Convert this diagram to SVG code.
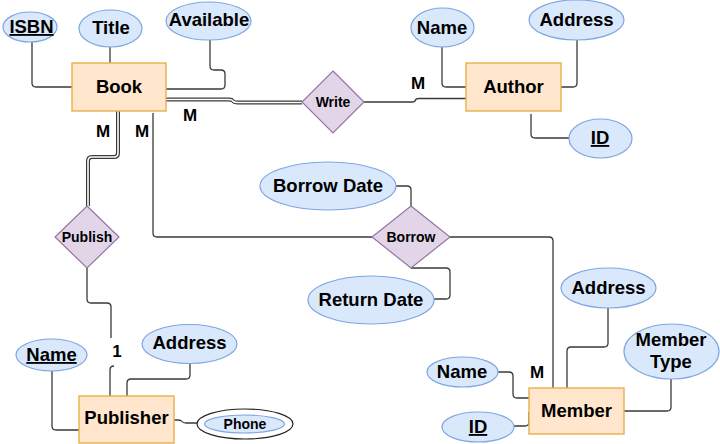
<svg xmlns="http://www.w3.org/2000/svg" width="720" height="444" viewBox="0 0 720 444">
<style>
text{font-family:"Liberation Sans",Arial,sans-serif;font-weight:bold;fill:#000;text-anchor:middle}
.a{font-size:18.5px}
.e{font-size:18.5px}
.r{font-size:14px}
.c{font-size:17px}
.u{text-decoration:underline}
ellipse{fill:#dae8fc;stroke:#7ea6e0;stroke-width:1.2}
rect.ent{fill:#ffe6cc;stroke:#e8b04a;stroke-width:1.4}
polygon{fill:#e1d5e7;stroke:#9673a6;stroke-width:1.2}
.ln{fill:none;stroke:#3a3a3a;stroke-width:1.3}
.dbo{fill:none;stroke:#3a3a3a;stroke-width:4}
.dbi{fill:none;stroke:#fff;stroke-width:1.6}
</style>
<rect width="720" height="444" fill="#fff"/>
<g id="connectors">
<path class="ln" d="M32,42 V83 Q32,87 36,87 H72"/>
<path class="ln" d="M110,47 V63"/>
<path class="ln" d="M210,40 V66 Q210,70 214,70 H221 Q225,70 225,74 V85 Q225,89 221,89 H166"/>
<path class="dbo" d="M166,99.5 H229 Q232,99.5 233,101 Q234,102.5 237,102.5 H302"/>
<path class="dbi" d="M166,99.5 H229 Q232,99.5 233,101 Q234,102.5 237,102.5 H302"/>
<path class="ln" d="M364,102 H412 Q415,102 415.5,100 Q416,98.5 419,98.5 H466"/>
<path class="ln" d="M442,47 V83 Q442,87 446,87 H466"/>
<path class="ln" d="M577,40 V83 Q577,87 573,87 H561"/>
<path class="ln" d="M531,114 V134 Q531,138 535,138 H569"/>
<path class="dbo" d="M118,111 V153 Q118,157 114,157 H92 Q88,157 88,161 V206"/>
<path class="dbi" d="M118,111 V153 Q118,157 114,157 H92 Q88,157 88,161 V206"/>
<path class="ln" d="M87,268 V299 Q87,303 91,303 H107 Q111,303 111,307 V338"/>
<path class="ln" d="M114,366 Q110,366 110,370 V396"/>
<path class="ln" d="M153,113 V233 Q153,237 157,237 H372"/>
<path class="ln" d="M450,237 H549 Q553,237 553,241 V388"/>
<path class="ln" d="M396,186 H407 Q411,186 411,190 V206"/>
<path class="ln" d="M411,268 H446 Q450,268 450,272 V295 Q450,299 446,299 H434"/>
<path class="ln" d="M52,371 V426 Q52,430 56,430 H79"/>
<path class="ln" d="M190,363 V375 Q190,379 186,379 H131 Q127,379 127,383 V396"/>
<path class="ln" d="M174,420 H178 Q181,420 182,421.5 Q183,423 186,423 H197"/>
<path class="ln" d="M608,308 V343 Q608,347 604,347 H571 Q567,347 567,351 V388"/>
<path class="ln" d="M671,379 V407 Q671,411 667,411 H624"/>
<path class="ln" d="M498,372 H509 Q513,372 513,376 V394 Q513,398 517,398 H529"/>
<path class="ln" d="M514,426 H525 Q529,426 529,422 V412"/>
</g>
<g id="Book"><rect class="ent" x="72" y="63" width="94" height="48"/><text class="e" x="119" y="93">Book</text></g>
<g id="Author"><rect class="ent" x="466" y="63" width="95" height="48"/><text class="e" x="513.5" y="93">Author</text></g>
<g id="Publisher"><rect class="ent" x="79" y="396" width="95" height="47"/><text class="e" x="126.5" y="424">Publisher</text></g>
<g id="Member"><rect class="ent" x="529" y="388" width="95" height="46"/><text class="e" x="576.5" y="417">Member</text></g>
<g id="Write"><polygon points="333,71 364,102 333,133 302,102"/><text class="r" x="333" y="107">Write</text></g>
<g id="Publish"><polygon points="87,206 119,237 87,268 55,237"/><text class="r" x="87" y="242">Publish</text></g>
<g id="Borrow"><polygon points="411,206 450,237 411,268 372,237"/><text class="r" x="411" y="242">Borrow</text></g>
<g id="Book_ISBN"><ellipse cx="30" cy="27" rx="27" ry="15"/><text class="a u" x="31.5" y="33">ISBN</text></g>
<g id="Book_Title"><ellipse cx="110.5" cy="28.5" rx="31.5" ry="18.5"/><text class="a" x="111" y="34">Title</text></g>
<g id="Book_Available"><ellipse cx="208.5" cy="21" rx="42.5" ry="19"/><text class="a" x="209" y="26">Available</text></g>
<g id="Author_Name"><ellipse cx="442.5" cy="27.5" rx="31.5" ry="19.5"/><text class="a" x="442" y="34">Name</text></g>
<g id="Author_Address"><ellipse cx="576.5" cy="20" rx="47.5" ry="20"/><text class="a" x="576.5" y="26">Address</text></g>
<g id="Author_ID"><ellipse cx="600.5" cy="138.5" rx="31.5" ry="19.5"/><text class="a u" x="600" y="144">ID</text></g>
<g id="Borrow_Date"><ellipse cx="328" cy="186" rx="68" ry="24"/><text class="a" x="328" y="192">Borrow Date</text></g>
<g id="Return_Date"><ellipse cx="371" cy="300" rx="63" ry="24"/><text class="a" x="371" y="306">Return Date</text></g>
<g id="Publisher_Name"><ellipse cx="51.5" cy="355" rx="35.5" ry="16"/><text class="a u" x="51.5" y="361">Name</text></g>
<g id="Publisher_Address"><ellipse cx="189.5" cy="344" rx="47.5" ry="19.5"/><text class="a" x="189.5" y="349">Address</text></g>
<g id="Publisher_Phone"><ellipse cx="245" cy="424" rx="48" ry="15" style="fill:#fff;stroke:#222"/><ellipse cx="244.5" cy="424" rx="40" ry="9"/><text class="r" x="245" y="429">Phone</text></g>
<g id="Member_Address"><ellipse cx="608.5" cy="288" rx="47.5" ry="20"/><text class="a" x="608.5" y="294">Address</text></g>
<g id="Member_Type"><ellipse cx="671.5" cy="351.5" rx="47.5" ry="27.5"/><text class="a" x="671" y="346">Member</text><text class="a" x="671" y="368">Type</text></g>
<g id="Member_Name"><ellipse cx="462.5" cy="372" rx="35.5" ry="15"/><text class="a" x="462" y="378">Name</text></g>
<g id="Member_ID"><ellipse cx="478" cy="427" rx="36" ry="15"/><text class="a u" x="478" y="433">ID</text></g>
<g id="labels">
<text class="c" x="418" y="89">M</text>
<text class="c" x="190" y="121">M</text>
<text class="c" x="103" y="137">M</text>
<text class="c" x="142" y="137">M</text>
<text class="c" x="117" y="357">1</text>
<text class="c" x="537" y="378">M</text>
</g>
</svg>
